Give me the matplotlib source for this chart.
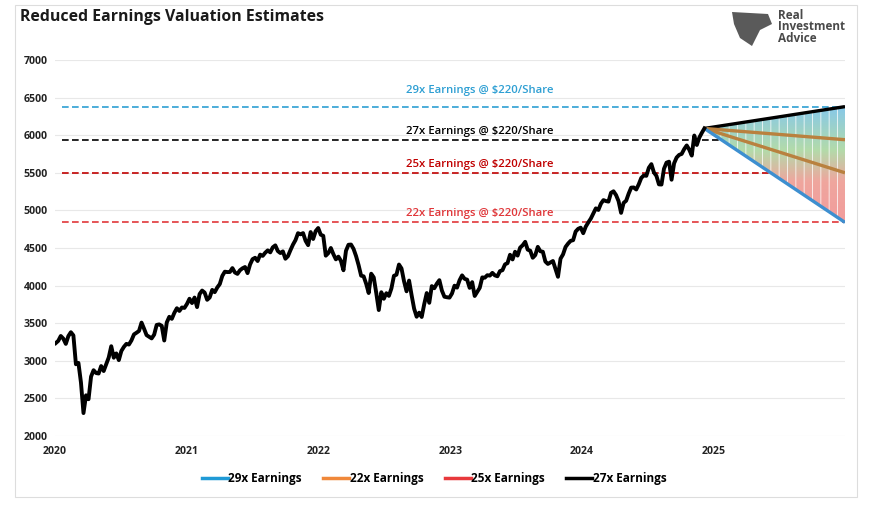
import numpy as np
import pandas as pd
import matplotlib
matplotlib.use("Agg")
import matplotlib.pyplot as plt
import matplotlib.dates as mdates
from matplotlib.lines import Line2D
from matplotlib.patches import Rectangle, Polygon
from matplotlib.colors import LinearSegmentedColormap

plt.rcParams['font.family'] = ['Open Sans', 'DejaVu Sans']
plt.rcParams['hatch.linewidth'] = 0.7

# weekly S&P 500 closes (Fridays)
spx_2020 = [3235, 3265, 3330, 3295, 3225, 3328, 3380, 3338, 2954, 2972, 2711, 2305, 2541,
            2489, 2790, 2875, 2837, 2831, 2930, 2864, 2955, 3044, 3194, 3041, 3098, 3009,
            3130, 3185, 3225, 3216, 3271, 3351, 3373, 3397, 3508, 3427, 3341, 3319, 3298,
            3348, 3477, 3484, 3465, 3270, 3510, 3585, 3558, 3638, 3699, 3663, 3709, 3703, 3756]
spx_2021 = [3825, 3768, 3841, 3714, 3887, 3934, 3907, 3811, 3842, 3943, 3913, 3975,
            4020, 4129, 4185, 4180, 4181, 4233, 4174, 4156, 4204, 4230, 4247, 4166, 4281,
            4352, 4370, 4327, 4412, 4395, 4437, 4468, 4442, 4509, 4535, 4459, 4433, 4455,
            4357, 4391, 4471, 4545, 4605, 4697, 4682, 4698, 4595, 4538, 4712, 4620, 4725, 4766]
spx_2022 = [4677, 4662, 4398, 4432, 4500, 4419, 4349, 4385, 4329, 4204, 4463, 4543,
            4546, 4488, 4392, 4272, 4132, 4123, 4024, 3901, 4158, 4109, 3901, 3675, 3912,
            3825, 3899, 3863, 3962, 4130, 4145, 4280, 4228, 4058, 3924, 4067, 3873, 3693, 3586,
            3640, 3583, 3753, 3901, 3771, 3993, 3965, 4026, 4072, 3934, 3852, 3845, 3840]
spx_2023 = [3895, 3999, 3973, 4071, 4136, 4090, 4079, 3970, 4046, 3862, 3917, 3971, 4109,
            4105, 4138, 4133, 4169, 4136, 4124, 4192, 4205, 4282, 4299, 4410, 4348, 4450,
            4399, 4505, 4536, 4582, 4478, 4464, 4370, 4406, 4515, 4457, 4450, 4320, 4288,
            4308, 4327, 4224, 4117, 4358, 4415, 4514, 4559, 4595, 4604, 4719, 4755, 4770]
spx_2024 = [4697, 4784, 4840, 4891, 4959, 5027, 5006, 5089, 5137, 5124, 5117, 5234, 5254,
            5204, 5123, 4967, 5100, 5128, 5223, 5303, 5305, 5278, 5347, 5432, 5465, 5460,
            5567, 5615, 5505, 5459, 5346, 5344, 5554, 5635, 5648, 5408, 5626, 5703, 5738,
            5751, 5815, 5864, 5808, 5729, 5996, 5870, 5969, 6032, 6090]

spx = spx_2020 + spx_2021 + spx_2022 + spx_2023 + spx_2024
dates = pd.date_range('2020-01-03', periods=len(spx), freq='W-FRI')

eps = 220
multiples = [29, 27, 25, 22]
levels = [m * eps for m in multiples]
level_colors = ['#2e9fd3', 'black', '#c00000', '#e0373a']
label_offsets = [220, 115, 105, 125]
fan_colors = ['black', '#b9813f', '#b9813f', '#3d8fd0']

legend_labels = ['29x Earnings', '22x Earnings', '25x Earnings', '27x Earnings']
legend_colors = ['#1f9ad6', '#f0883a', '#e8393c', 'black']

start = pd.Timestamp('2020-01-01')
fan_end = pd.Timestamp('2025-12-31')
fan_x = [dates[-1], fan_end]
fan_y = [[spx[-1], lv] for lv in levels]

fig = plt.figure(figsize=(8.72, 5.09), dpi=100)
ax = fig.add_axes([55/872, 1-436/509, 790/872, 376/509])

ax.set_ylim(2000, 7000)
ax.set_xlim(start, fan_end)
ax.set_yticks(range(2000, 7001, 500))
years = [pd.Timestamp(f'{y}-01-01') for y in range(2020, 2026)]
ax.set_xticks(years)
ax.set_xticklabels([str(y.year) for y in years])
ax.grid(axis='y', color='#e8e8e8', lw=0.8)
ax.set_axisbelow(True)
for s in ax.spines.values():
    s.set_visible(False)
ax.tick_params(length=0, labelsize=7.6, colors='#222222')
ax.tick_params(axis='y', pad=5)
ax.tick_params(axis='x', pad=7)
for t in ax.get_xticklabels() + ax.get_yticklabels():
    t.set_fontweight('bold')

# horizontal valuation levels
for lv, c, off, m in zip(levels, level_colors, label_offsets, multiples):
    ax.hlines(lv, pd.Timestamp('2020-01-20'), fan_end, colors=c,
              linestyles=(0, (4, 2)), lw=1.2)
    ax.text(pd.Timestamp('2023-03-25'), lv + off, f'{m}x Earnings @ ${eps}/Share',
            color=c, ha='center', va='center', fontsize=8.2, fontweight='semibold')

# fan: vertical gradient blue -> green -> red, clipped to the fan, with thin white stripes
grad_cmap = LinearSegmentedColormap.from_list(
    'fan', [(0.0, '#f29c9c'), (0.35, '#efa69e'), (0.62, '#b3dbaa'), (1.0, '#86c8ea')])
fan_poly = ax.fill_between(fan_x, fan_y[0], fan_y[-1], facecolor='none', lw=0)
x0, x1 = mdates.date2num(fan_x[0]), mdates.date2num(fan_x[1])
grad = np.linspace(0, 1, 256).reshape(-1, 1)
img = ax.imshow(grad, extent=[x0, x1, levels[-1], levels[0]], origin='lower',
                aspect='auto', cmap=grad_cmap, zorder=2, interpolation='bilinear')
img.set_clip_path(fan_poly.get_paths()[0], transform=ax.transData)
ax.fill_between(fan_x, fan_y[0], fan_y[-1], facecolor='none', edgecolor=(1, 1, 1, 0.75),
                hatch='||', lw=0, zorder=2.5)
ax.set_xlim(start, fan_end)
ax.set_ylim(2000, 7000)

for fy, c in zip(fan_y, fan_colors):
    ax.plot(fan_x, fy, color=c, lw=2.4, zorder=3, solid_capstyle='butt')

ax.plot(dates, spx, color='black', lw=2.8, solid_joinstyle='round', zorder=4)

handles = [Line2D([], [], color=c, lw=2.5) for c in legend_colors]
fig.legend(handles, legend_labels, loc='center', bbox_to_anchor=(0.498, 0.059), ncol=4,
           frameon=False, prop=dict(size=8.5, weight='bold'), handlelength=2.2,
           handletextpad=0.05, columnspacing=1.8)

fig.text(20/872, 1-17/509, 'Reduced Earnings Valuation Estimates', fontsize=11.4,
         fontweight='bold', va='center', ha='left', color='#1a1a1a')

# logo
fig.text(778/872, 1-27/509, 'Real\nInvestment\nAdvice', fontsize=8.5, fontweight='bold',
         color='#4a4a4a', linespacing=0.85, va='center', ha='left')
eagle = Polygon([(732/872, 1-12/509), (768/872, 1-14/509), (772/872, 1-24/509),
                 (760/872, 1-30/509), (752/872, 1-46/509), (740/872, 1-38/509),
                 (734/872, 1-24/509)], closed=True, transform=fig.transFigure,
                facecolor='#5a5a5a', edgecolor='none')
fig.patches.append(eagle)

fig.patches.append(Rectangle((15/872, 1-497/509), 842/872, 492/509, transform=fig.transFigure,
                             fill=False, edgecolor='#dddddd', lw=0.8))

fig.savefig('out.png', dpi=100)
